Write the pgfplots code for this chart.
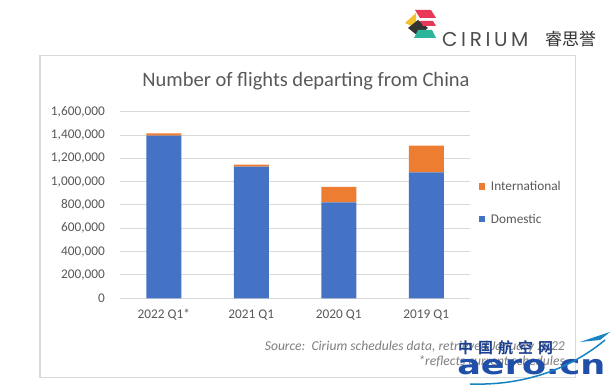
\documentclass[border=0pt]{standalone}
\usepackage{fontspec}
\setmainfont{Carlito}
\newfontfamily\cjk{Noto Sans CJK SC}
\newfontfamily\cjkb{Noto Sans CJK SC Bold}
\newfontfamily\logofont[LetterSpace=18]{Poppins}
\newfontfamily\wmfont{DejaVu Sans}
\usepackage{pgfplots}
\pgfplotsset{compat=1.18}
\definecolor{dom}{HTML}{4472C4}
\definecolor{intl}{HTML}{ED7D31}
\definecolor{gridc}{HTML}{D9D9D9}
\definecolor{txt}{HTML}{595959}
\definecolor{srcc}{HTML}{7F7F7F}
\definecolor{wmblue}{HTML}{1F4FA8}
\definecolor{wmnavy}{HTML}{1A3F8F}
\definecolor{lpink}{HTML}{E8385A}
\definecolor{lyel}{HTML}{F2C12E}
\definecolor{ldark}{HTML}{333333}
\definecolor{lteal}{HTML}{2BB59A}
\pgfplotstableread{
x dom intl
0 1395000 20000
1 1128000 18000
2 823000 132000
3 1080000 228000
}\flights
\begin{document}
\begin{tikzpicture}[x=1pt,y=1pt]
\useasboundingbox (0,0) rectangle (613,390);
\fill[white] (0,0) rectangle (613,390);
% frame
\draw[gridc, line width=1.3pt] (40,334.3) rectangle (575.5,12.7);
\begin{axis}[
  at={(120pt,91.7pt)}, anchor=south west,
  scale only axis, width=350pt, height=186.6pt,
  ybar stacked, bar width=35pt,
  xmin=-0.5, xmax=3.5, ymin=0, ymax=1600000,
  xtick=data, xticklabels={2022 Q1*,2021 Q1,2020 Q1,2019 Q1},
  ytick={0,200000,...,1600000},
  scaled y ticks=false,
  /pgf/number format/assume math mode=true,
  /pgf/number format/fixed,
  /pgf/number format/1000 sep={,},
  ymajorgrids, grid style={gridc, line width=1pt},
  axis x line*=bottom, axis y line*=left,
  x axis line style={gridc, line width=1pt, -},
  y axis line style={draw=none},
  major tick length=0pt,
  tick label style={font=\fontsize{13.3}{15}\selectfont, text=txt},
  yticklabel style={inner sep=0pt, xshift=-15pt},
  xticklabel style={inner sep=0pt, yshift=-11pt},
  legend style={draw=none, fill=none, at={(1.025,0.64)}, anchor=north west,
    font=\fontsize{13.3}{15}\selectfont, text=txt, row sep=18pt, inner sep=0pt,
    /tikz/every odd column/.append style={column sep=3.5pt}},
  legend cell align=left,
  reverse legend,
  legend image code/.code={\fill[#1] (0pt,-3.2pt) rectangle (6.5pt,3.2pt);},
]
\addplot[fill=dom, draw=none] table[x=x, y=dom] {\flights};
\addlegendentry{Domestic}
\addplot[fill=intl, draw=none] table[x=x, y=intl] {\flights};
\addlegendentry{International}
\end{axis}
% title
\node[text=txt, font=\fontsize{20.5}{24}\selectfont] at (306,309) {Number of flights departing from China};
% source
\node[anchor=base east, text=srcc, font=\fontsize{13.6}{15}\selectfont\itshape, inner sep=0pt] at (565,39.5) {Source:\ \ Cirium schedules data, retrieved January 2022};
\node[anchor=base east, text=srcc, font=\fontsize{13.6}{15}\selectfont\itshape, inner sep=0pt] at (565,24.5) {*reflects current schedules};
% logo
\fill[lpink] (415,380) -- (431,380) -- (436,372) -- (420,372) -- cycle;
\fill[lyel] (405,367) -- (416,377) -- (416,362) -- cycle;
\fill[ldark] (408,362) -- (418,370) -- (428,362) -- (418,354) -- cycle;
\fill[lteal] (418,360) -- (432,360) -- (436,352) -- (414,352) -- cycle;
\fill[lpink] (420,369) -- (433,369) -- (436,364) -- (423,364) -- cycle;
\node[anchor=base west, inner sep=0pt, text=black!70, font=\logofont\fontsize{20}{22}\selectfont] at (442,343) {CIRIUM};
\node[anchor=base west, inner sep=0pt, text=black!80, font=\cjk\fontsize{17}{19}\selectfont] at (545,344) {睿思誉};
% watermark
\node[anchor=base west, inner sep=0pt, text=wmnavy, font=\cjkb\fontsize{15}{17}\selectfont] at (458,36) {中\hspace{5pt}国\hspace{5pt}航\hspace{5pt}空\hspace{5pt}网};
\node[anchor=base west, inner sep=0pt, text=wmblue, font=\wmfont\bfseries\fontsize{27}{29}\selectfont, xscale=1.3] at (457,15) {aero.cn};
\draw[wmblue!70!cyan, line width=1.5pt] (470,6) .. controls (530,4) and (575,25) .. (605,50);
\fill[wmblue!70!cyan] (580,48) -- (610,58) -- (600,50) -- cycle;
\end{tikzpicture}
\end{document}
